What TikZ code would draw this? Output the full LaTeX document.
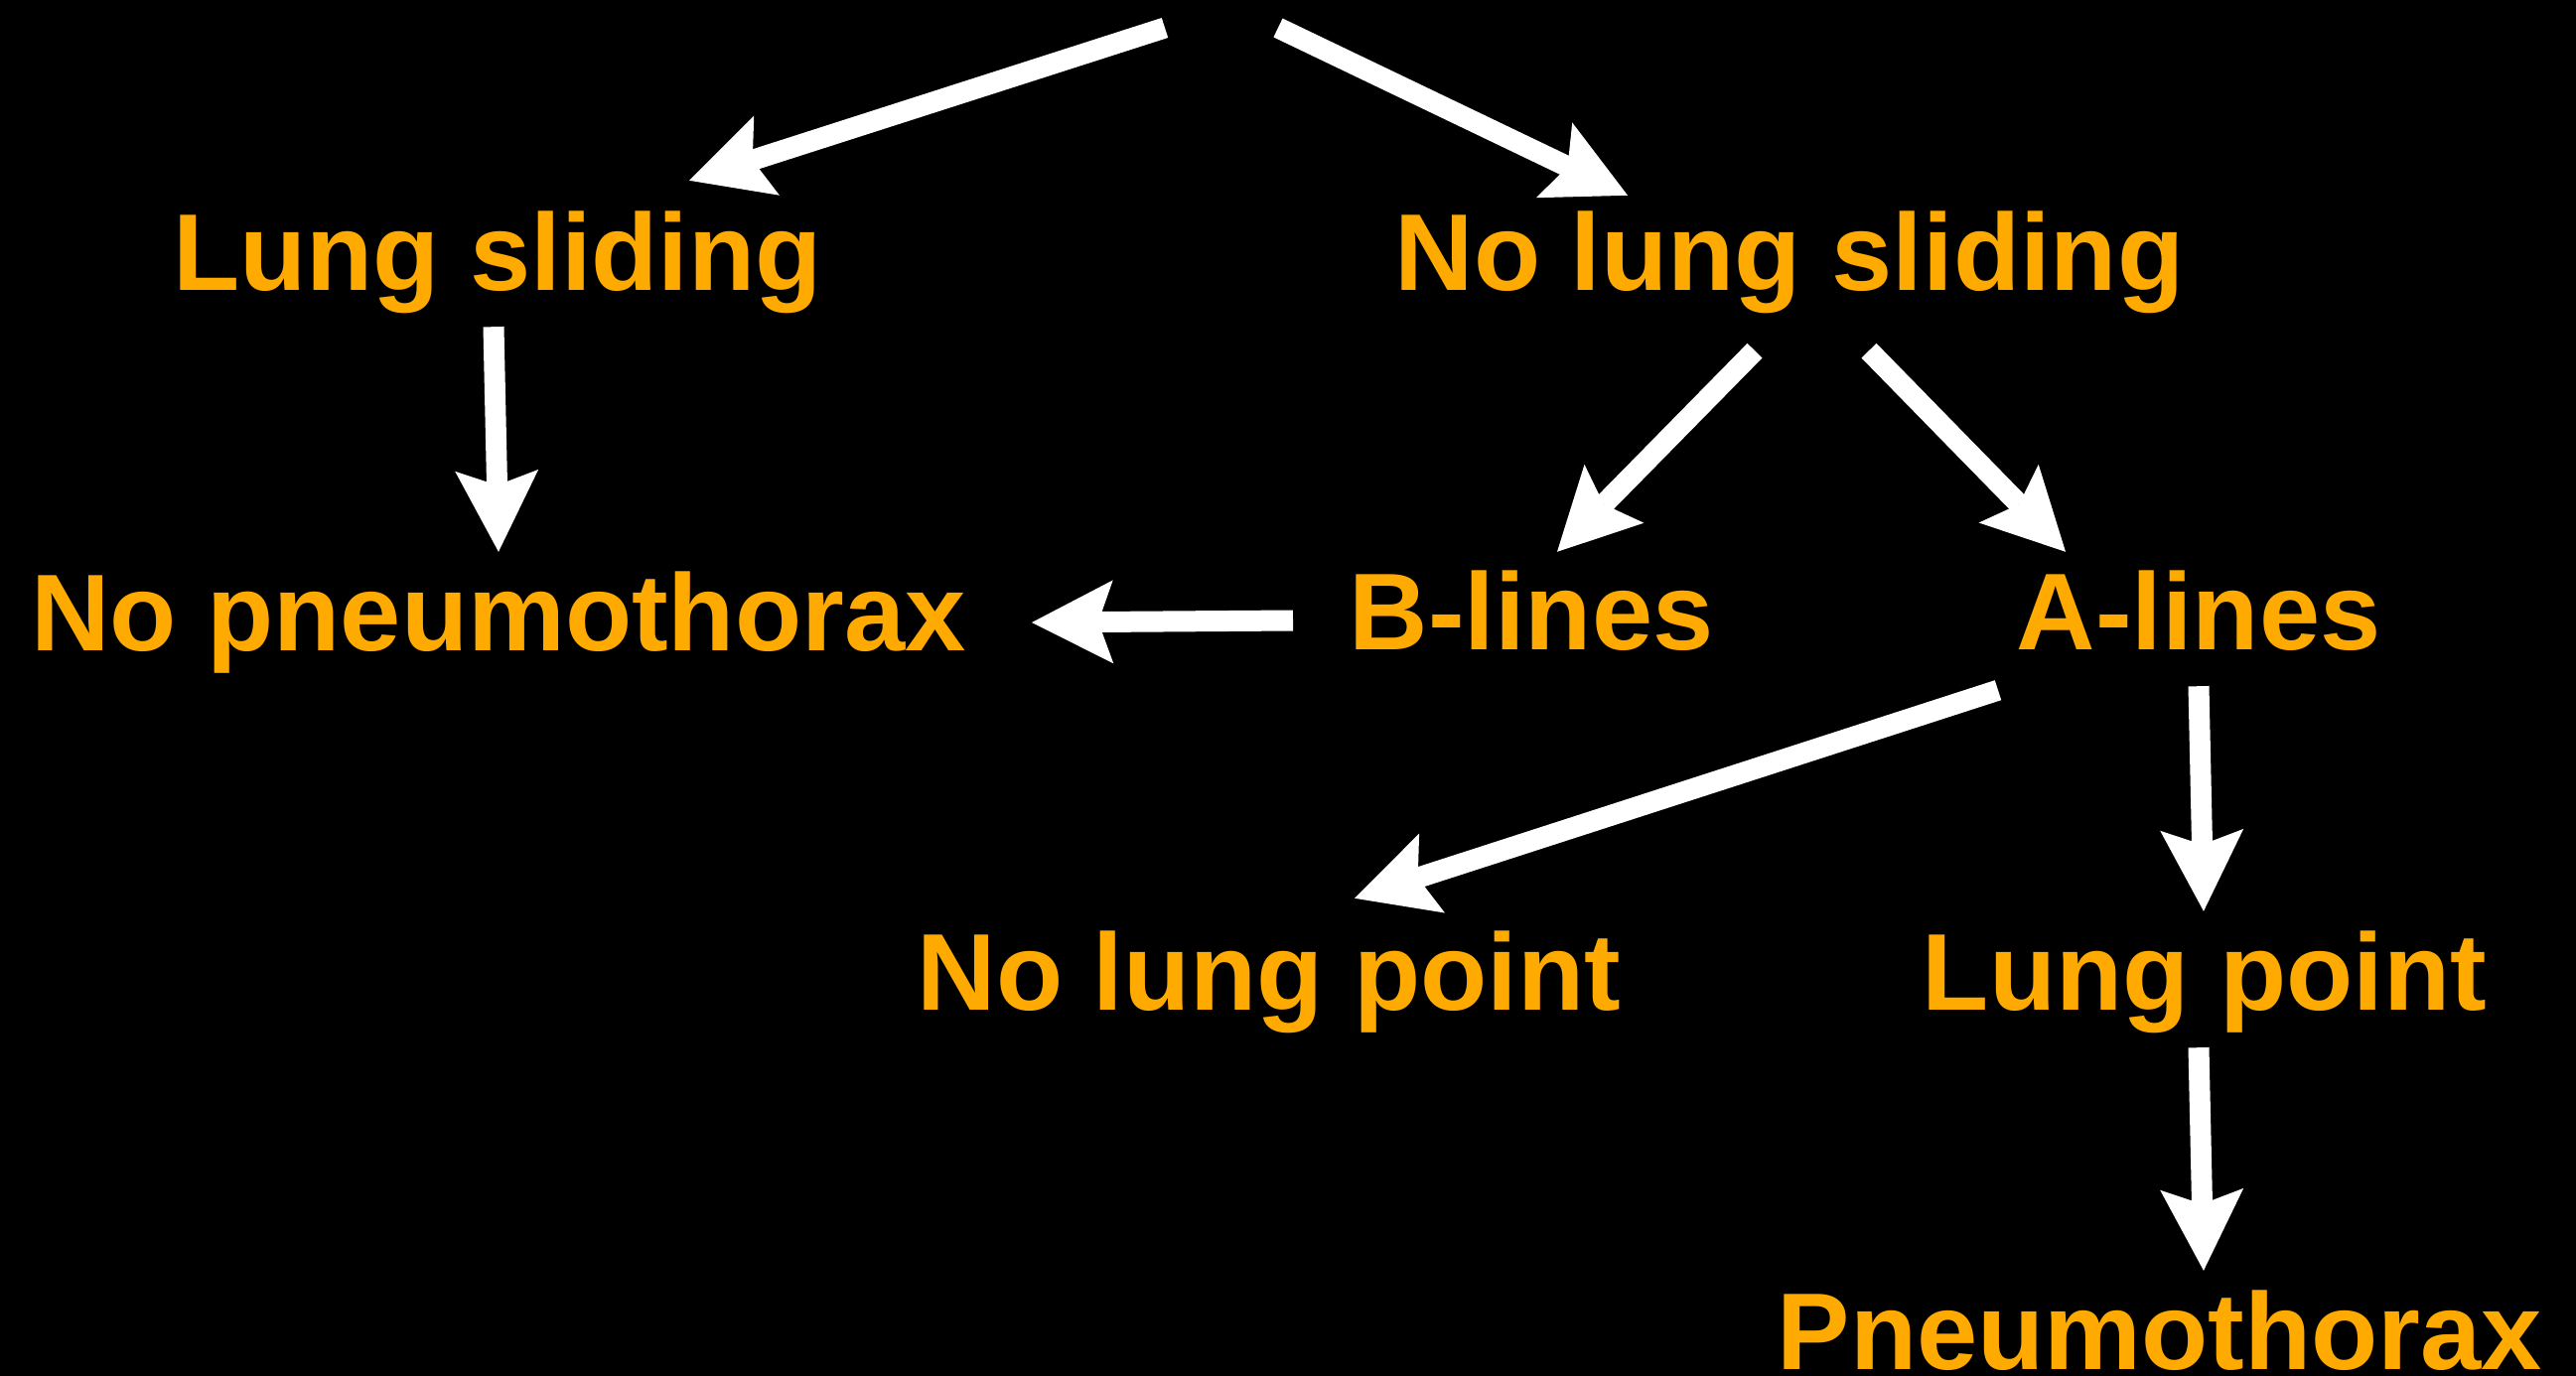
\documentclass[tikz,border=0pt]{standalone}
\usepackage{fontspec}
\setmainfont{Liberation Sans}
\usetikzlibrary{arrows.meta,calc}
\definecolor{lbl}{RGB}{255,170,0}
\begin{document}
\begin{tikzpicture}[x=1pt,y=-1pt,
  lab/.style={anchor=base,inner sep=0pt,text height=81pt,text depth=0pt,
    text=lbl,font=\fontsize{110}{132}\selectfont\bfseries},
  conn/.style={draw=white,line width=21pt,
    -{Stealth[length=82pt,width=84pt,inset=15pt,line width=0pt]}}]
\fill[black] (0,0) rectangle (2594,1386);
\useasboundingbox (0,0) rectangle (2594,1386);
\node[lab] (ls)  at (501,292)  {Lung sliding};
\node[lab] (nls) at (1802,292) {No lung sliding};
\node[lab] (np)  at (502,655)  {No pneumothorax};
\node[lab] (bl)  at (1542,654) {B-lines};
\node[lab] (al)  at (2214,654) {A-lines};
\node[lab] (nlp) at (1278,1017) {No lung point};
\node[lab] (lp)  at (2220,1017) {Lung point};
\node[lab] (px)  at (2175,1379) {Pneumothorax};
\coordinate (r1) at (1173,28);
\coordinate (r2) at (1287,28);
\draw[conn] (r1) -- ($(ls.north)+(193,-29)$);
\draw[conn] (r2) -- ($(nls.north)+(-163,-14)$);
\draw[conn] ($(ls.south)+(-4,37)$) -- ($(np.north)+(0,-18)$);
\draw[conn] ($(nls.south)+(-35,61)$) -- ($(bl.north)+(26,-17)$);
\draw[conn] ($(nls.south)+(80,61)$) -- ($(al.north)+(-134,-17)$);
\draw[conn] ($(bl.base)+(-240,-29)$) -- ($(np.base)+(537,-28)$);
\draw[conn] ($(al.south)+(-202,41)$) -- ($(nlp.north)+(86,-31)$);
\draw[conn] ($(al.south)+(0,37)$) -- ($(lp.north)+(-1,-18)$);
\draw[conn] ($(lp.south)+(-6,38)$) -- ($(px.north)+(44,-18)$);
\end{tikzpicture}
\end{document}
